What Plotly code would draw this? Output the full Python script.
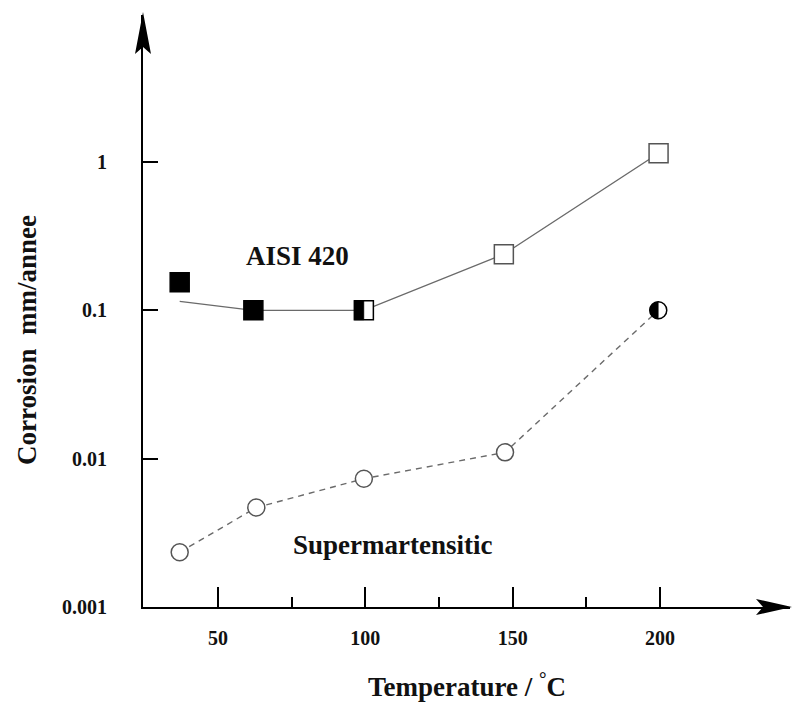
import numpy as np
import plotly.graph_objects as go

# ---- data ----
temps_aisi = [37, 62, 99.5, 147, 199.5]
corr_aisi_marker = [0.1545, 0.1, 0.1, 0.239, 1.145]
corr_aisi_line = [0.115, 0.1, 0.1, 0.239, 1.145]
fill_aisi = ["full", "full", "half", "open", "open"]

temps_super = [37, 63, 99.5, 147.4, 199.4]
corr_super = [0.00234, 0.00468, 0.00733, 0.01103, 0.1]
fill_super = ["open", "open", "open", "open", "half"]

x_ticks = [50, 100, 150, 200]
x_minor = [75, 125, 175]
y_ticks = [0.001, 0.01, 0.1, 1]
y_ticktext = ["0.001", "0.01", "0.1", "1"]

# ---- layout geometry ----
W, H = 792, 704
ML, MR, MT, MB = 143, 2, 15, 97
PW, PH = W - ML - MR, H - MT - MB
x_range = [24.55, 244.1]
y_range = [-3, 0.991]
xpx = PW / (x_range[1] - x_range[0])
ypx = PH / (y_range[1] - y_range[0])

serif = "Liberation Serif"
fig = go.Figure()

# connecting lines
fig.add_trace(go.Scatter(x=temps_aisi, y=corr_aisi_line, mode="lines",
                         line=dict(color="#6a6a6a", width=1.4), hoverinfo="skip"))
fig.add_trace(go.Scatter(x=temps_super, y=corr_super, mode="lines",
                         line=dict(color="#6a6a6a", width=1.4, dash="6px,5px"), hoverinfo="skip"))

SQ = 19
CI = 17

def add_markers(xs, ys, kinds, symbol, size):
    colors = ["black" if k == "full" else "white" for k in kinds]
    lcol = ["black" if k != "open" else "#555555" for k in kinds]
    fig.add_trace(go.Scatter(x=xs, y=ys, mode="markers",
                             marker=dict(symbol=symbol, size=size, color=colors,
                                         line=dict(color=lcol, width=1.5)),
                             hoverinfo="skip"))
    # left-half fills for half-filled markers
    for x, y, k in zip(xs, ys, kinds):
        if k != "half":
            continue
        h = size / 2
        if symbol == "square":
            dx = np.array([-h, 0, 0, -h, -h])
            dy = np.array([-h, -h, h, h, -h])
        else:
            t = np.linspace(np.pi / 2, 3 * np.pi / 2, 40)
            dx = np.concatenate([h * np.cos(t), [0]])
            dy = np.concatenate([h * np.sin(t), [h]])
        px = x + dx / xpx
        py = 10 ** (np.log10(y) + dy / ypx)
        fig.add_trace(go.Scatter(x=px, y=py, mode="lines", fill="toself",
                                 fillcolor="black", line=dict(color="black", width=0.5),
                                 hoverinfo="skip"))

add_markers(temps_aisi, corr_aisi_marker, fill_aisi, "square", SQ)
add_markers(temps_super, corr_super, fill_super, "circle", CI)

def to_paper(px, py):
    return (px - ML) / PW, (H - MB - py) / PH

def arrow_path(pts):
    s = ""
    for i, (a, b) in enumerate(pts):
        u, v = to_paper(a, b)
        s += ("M" if i == 0 else "L") + f"{u:.5f},{v:.5f}"
    return s + "Z"

shapes = [
    dict(type="path", xref="paper", yref="paper", fillcolor="black", line=dict(width=0),
         path=arrow_path([(143, 12), (135, 54), (143, 47), (151, 54)])),
    dict(type="path", xref="paper", yref="paper", fillcolor="black", line=dict(width=0),
         path=arrow_path([(792, 607), (756, 599), (763, 607), (756, 615)])),
]

lab_font = dict(family=serif, size=27, color="#111", weight="bold")

def label(text, px, py, **kw):
    u, v = to_paper(px, py)
    return dict(text=text, x=u, y=v, xref="paper", yref="paper", showarrow=False,
                xanchor="center", yanchor="middle", font=lab_font, **kw)

annotations = [
    label("AISI 420", 297, 256),
    label("Supermartensitic", 392, 545),
    label("Temperature / <sup>°</sup>C", 467, 685),
    label("Corrosion\u00a0\u00a0mm/annee", 27, 340, textangle=-90),
]

fig.update_layout(
    width=W, height=H, margin=dict(l=ML, r=MR, t=MT, b=MB),
    paper_bgcolor="white", plot_bgcolor="white", showlegend=False,
    shapes=shapes, annotations=annotations,
    xaxis=dict(range=x_range, tickvals=x_ticks, ticktext=[str(v) for v in x_ticks],
               ticks="inside", ticklen=20, tickwidth=1.5, tickcolor="black",
               showline=True, linewidth=2, linecolor="black", showgrid=False, zeroline=False,
               tickfont=dict(family=serif, size=20, color="#111", weight="bold"),
               ticklabelstandoff=12,
               minor=dict(tickvals=x_minor, ticks="inside", ticklen=10, tickwidth=1.5,
                          tickcolor="black", showgrid=False)),
    yaxis=dict(type="log", range=y_range, tickvals=y_ticks, ticktext=y_ticktext,
               ticks="inside", ticklen=15, tickwidth=1.5, tickcolor="black",
               showline=True, linewidth=2, linecolor="black", showgrid=False, zeroline=False,
               tickfont=dict(family=serif, size=20, color="#111", weight="bold"),
               ticklabelstandoff=30),
)

fig.write_html("out.html")
